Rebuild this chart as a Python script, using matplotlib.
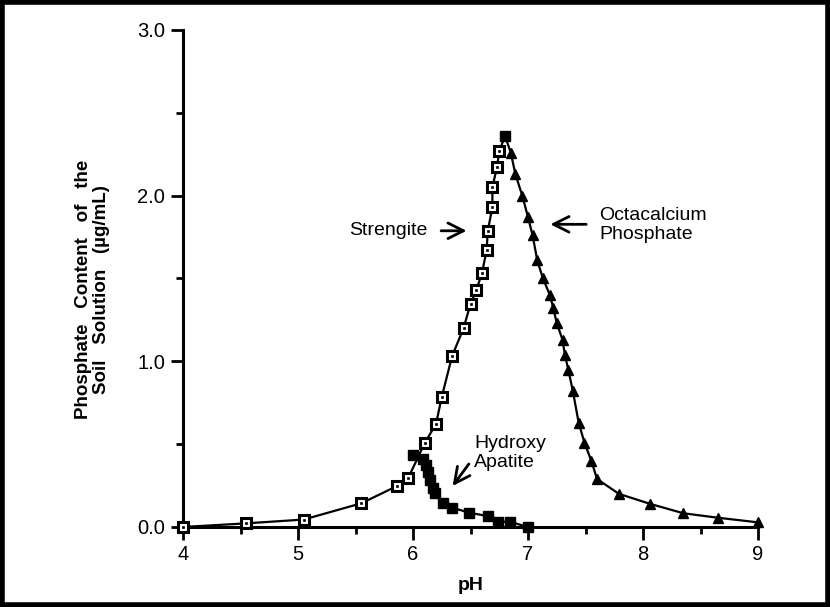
import matplotlib.pyplot as plt
from matplotlib.patches import Rectangle

plt.rcParams['font.family'] = ['Liberation Sans', 'DejaVu Sans']

# Strengite (open squares)
ph_strengite = [4.00, 4.55, 5.05, 5.55, 5.86, 5.96, 6.10, 6.20, 6.25, 6.34, 6.44, 6.50,
                6.55, 6.60, 6.64, 6.65, 6.69, 6.69, 6.73, 6.75]
p_strengite = [0.00, 0.022, 0.045, 0.143, 0.247, 0.298, 0.505, 0.622, 0.786, 1.032, 1.201, 1.348,
               1.430, 1.533, 1.672, 1.786, 1.931, 2.050, 2.174, 2.269]

# gemeinsamer Gipfelpunkt (gefuelltes Quadrat)
ph_peak = [6.80]
p_peak = [2.36]

# Octacalcium Phosphate (Dreiecke)
ph_octa = [6.85, 6.89, 6.95, 7.00, 7.04, 7.08, 7.13, 7.19, 7.22, 7.25, 7.30, 7.32,
           7.35, 7.39, 7.44, 7.49, 7.55, 7.60, 7.79, 8.06, 8.35, 8.65, 9.00]
p_octa = [2.26, 2.13, 2.00, 1.87, 1.76, 1.61, 1.50, 1.40, 1.32, 1.23, 1.13, 1.04,
          0.95, 0.82, 0.63, 0.51, 0.40, 0.29, 0.20, 0.14, 0.083, 0.056, 0.028]

# Hydroxy Apatite (gefuellte Quadrate)
ph_hydroxy = [6.00, 6.09, 6.11, 6.13, 6.15, 6.17, 6.19, 6.26, 6.34, 6.49, 6.65, 6.74, 6.84, 7.00]
p_hydroxy = [0.435, 0.41, 0.374, 0.334, 0.284, 0.234, 0.203, 0.147, 0.117, 0.086, 0.066, 0.032, 0.032, 0.0]

x_ticks = [4, 5, 6, 7, 8, 9]
y_ticks = [0.0, 1.0, 2.0, 3.0]
y_ticklabels = ['0.0', '1.0', '2.0', '3.0']

fig = plt.figure(figsize=(8.30, 6.07), dpi=100)
ax = fig.add_axes([0.2205, 0.1318, 0.6928, 0.8188])

# Linien
ax.plot(ph_strengite + ph_peak, p_strengite + p_peak, color='black', lw=1.6, zorder=2)
ax.plot(ph_peak + ph_octa, p_peak + p_octa, color='black', lw=1.6, zorder=2)
ax.plot(ph_hydroxy, p_hydroxy, color='black', lw=1.6, zorder=2)

# Marker
ax.plot(ph_strengite, p_strengite, ls='none', marker='s', ms=7.0, mfc='white', mec='black',
        mew=2.2, zorder=3, clip_on=False)
ax.plot(ph_strengite, p_strengite, ls='none', marker='s', ms=1.4, mfc='black', mec='black',
        mew=0.5, zorder=4, clip_on=False)
ax.plot(ph_octa, p_octa, ls='none', marker='^', ms=7.8, color='black', zorder=3, clip_on=False)
ax.plot(ph_hydroxy, p_hydroxy, ls='none', marker='s', ms=7.8, color='black', zorder=3, clip_on=False)
ax.plot(ph_peak, p_peak, ls='none', marker='s', ms=7.8, color='black', zorder=5)

# Beschriftungen mit Pfeilen
arrow = dict(arrowstyle='->', color='black', lw=2.0, mutation_scale=28)
ax.annotate('', xy=(6.49, 1.788), xytext=(6.22, 1.788), arrowprops=arrow)
ax.text(6.13, 1.788, 'Strengite', ha='right', va='center', fontsize=14)
ax.annotate('', xy=(7.17, 1.827), xytext=(7.53, 1.827), arrowprops=arrow)
ax.text(7.62, 1.825, 'Octacalcium\nPhosphate', ha='left', va='center', fontsize=14,
        linespacing=1.15)
ax.annotate('', xy=(6.33, 0.234), xytext=(6.50, 0.394), arrowprops=arrow)
ax.text(6.53, 0.447, 'Hydroxy\nApatite', ha='left', va='center', fontsize=14,
        linespacing=1.15)

ax.set_xlim(4, 9)
ax.set_ylim(0, 3.0)
ax.set_xticks(x_ticks)
ax.set_xticks([4.5, 5.5, 6.5, 7.5, 8.5], minor=True)
ax.set_yticks(y_ticks)
ax.set_yticklabels(y_ticklabels)
ax.set_yticks([0.5, 1.5, 2.5], minor=True)
ax.tick_params(which='major', length=9, width=2, labelsize=14.5, pad=4)
ax.tick_params(which='minor', length=5, width=2)

for side in ['top', 'right']:
    ax.spines[side].set_visible(False)
for side in ['left', 'bottom']:
    ax.spines[side].set_linewidth(2.2)

ax.set_xlabel('pH', fontsize=14, fontweight='bold', labelpad=9)
fig.text(92.5 / 830, 0.523, 'Phosphate   Content   of   the\nSoil   Solution   (\u00b5g/mL)',
         rotation=90, ha='center', va='center', fontsize=13.5, fontweight='bold',
         multialignment='center', linespacing=1.15)

# Rahmen um die ganze Abbildung
fig.patches.append(Rectangle((0.003, 0.004), 0.994, 0.992, transform=fig.transFigure,
                             fill=False, edgecolor='black', lw=4))

fig.savefig('out.png', dpi=100)
